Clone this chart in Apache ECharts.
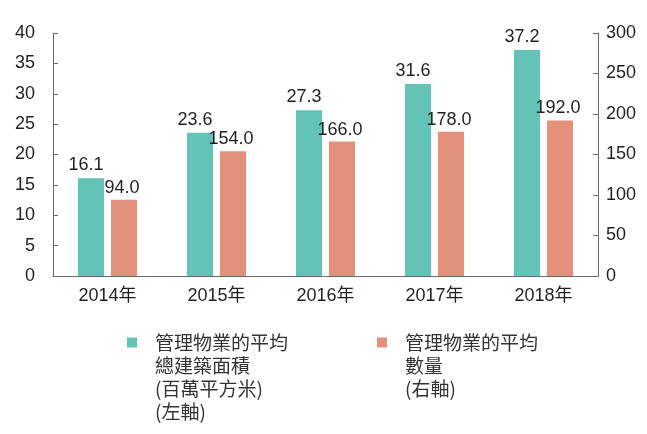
<!DOCTYPE html>
<html>
<head>
<meta charset="utf-8">
<script src="https://cdn.jsdelivr.net/npm/echarts@6/dist/echarts.min.js"></script>
<style>
html,body{margin:0;padding:0;background:#fff;}
#chart{width:647px;height:434px;}
</style>
</head>
<body>
<div id="chart"></div>
<script>
const years = ['2014年', '2015年', '2016年', '2017年', '2018年'];
const avgArea = [16.1, 23.6, 27.3, 31.6, 37.2];
const avgCount = [94.0, 154.0, 166.0, 178.0, 192.0];
const nameArea = '管理物業的平均\n總建築面積\n(百萬平方米)\n(左軸)';
const nameCount = '管理物業的平均\n數量\n(右軸)';

const numFont = '"Liberation Sans", Arial, "Noto Sans CJK TC", sans-serif';
const cjkFont = '"Noto Sans CJK TC", sans-serif';
const axisColor = '#6a6a6a';
const textColor = '#231f20';
const lh = 23;

// prepend blank lines so the first text line sits level with the legend icon
function legendText(name) {
  const n = name.split('\n').length;
  return '\n'.repeat(n - 1) + name;
}

const chart = echarts.init(document.getElementById('chart'));
chart.setOption({
  animation: false,
  color: ['#63c3b6', '#e3917a'],
  grid: { left: 53, right: 49, top: 33, bottom: 158 },
  legend: {
    left: 127,
    top: 262,
    padding: 0,
    orient: 'horizontal',
    itemWidth: 10,
    itemHeight: 10,
    itemGap: 89,
    icon: 'rect',
    formatter: legendText,
    textStyle: { fontFamily: cjkFont, fontSize: 19, lineHeight: lh, color: '#333', padding: [0, 0, 0, 13] },
    data: [nameArea, nameCount]
  },
  xAxis: {
    type: 'category',
    data: years,
    axisLine: { lineStyle: { color: axisColor, width: 1 } },
    axisTick: { inside: true, length: 5, lineStyle: { color: axisColor } },
    axisLabel: { fontFamily: numFont, fontSize: 18, color: textColor, margin: 11 }
  },
  yAxis: [
    {
      type: 'value', min: 0, max: 40, interval: 5,
      axisLine: { show: true, lineStyle: { color: axisColor } },
      axisTick: { show: true, inside: true, length: 5, lineStyle: { color: axisColor } },
      splitLine: { show: false },
      axisLabel: { fontFamily: numFont, fontSize: 18, color: textColor, margin: 18 }
    },
    {
      type: 'value', min: 0, max: 300, interval: 50, position: 'right',
      axisLine: { show: true, lineStyle: { color: axisColor } },
      axisTick: { show: true, inside: true, length: 5, lineStyle: { color: axisColor } },
      splitLine: { show: false },
      axisLabel: { fontFamily: numFont, fontSize: 18, color: textColor, margin: 8 }
    }
  ],
  series: [
    {
      name: nameArea, type: 'bar', data: avgArea, yAxisIndex: 0,
      barWidth: 26, barGap: '27%',
      label: {
        show: true, position: 'top', distance: 4, offset: [-5, 0],
        fontFamily: numFont, fontSize: 18, color: textColor,
        formatter: p => p.value.toFixed(1)
      }
    },
    {
      name: nameCount, type: 'bar', data: avgCount, yAxisIndex: 1,
      barWidth: 26, barGap: '27%',
      label: {
        show: true, position: 'top', distance: 3, offset: [-2, 0],
        fontFamily: numFont, fontSize: 18, color: textColor,
        formatter: p => p.value.toFixed(1)
      }
    }
  ]
});
</script>
</body>
</html>
